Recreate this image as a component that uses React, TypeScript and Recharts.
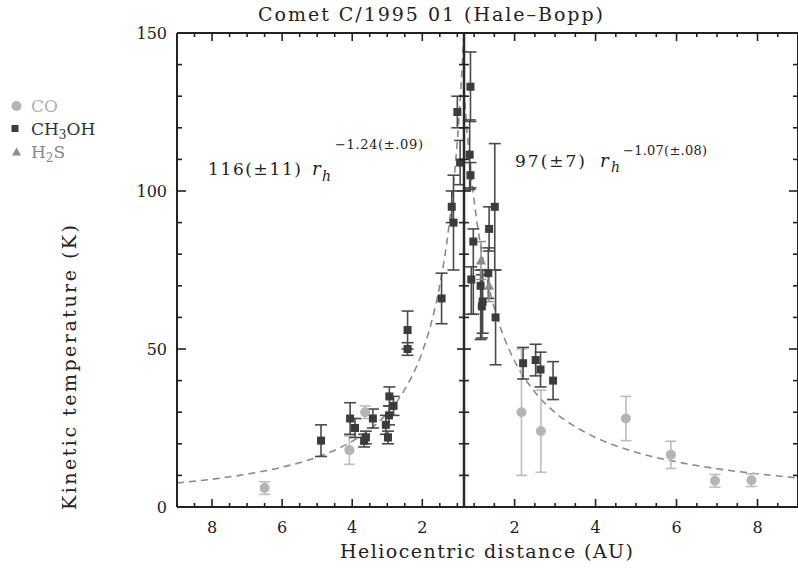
import React from 'react';
import { ComposedChart, Scatter, Line, XAxis, YAxis, ErrorBar } from 'recharts';

const FONT = '"DejaVu Serif", "Liberation Serif", serif';
const AXIS = '#222';
const CH3OH_COLOR = '#3c3c3c';
const CH3OH_BAR = '#4a4a4a';
const CO_COLOR = '#b5b5b5';
const CO_BAR = '#bdbdbd';
const H2S_COLOR = '#8c8c8c';
const FIT_COLOR = '#8a8a8a';

// ---------- pre-perihelion (left panel) ----------
const CH3OH_PRE_R = [4.89, 4.06, 3.92, 3.61, 3.66, 3.41, 2.94, 2.82, 2.95, 3.04, 2.98, 2.42, 2.42, 1.45, 1.16, 1.11, 1.0, 0.92];
const CH3OH_PRE_T = [21, 28, 25, 22, 21, 28, 35, 32, 29, 26, 22, 56, 50, 66, 95, 90, 125, 109];
const CH3OH_PRE_ERR = [[5, 5], [5, 5], [3, 3], [2, 2], [2, 2], [3, 3], [3, 3], [3, 3], [3, 3], [3, 3], [2, 2], [6, 6], [2, 2], [8, 8], [5, 5], [15, 15], [5, 5], [7, 7]];
const CO_PRE_R = [6.5, 4.08, 3.63];
const CO_PRE_T = [6, 18, 30];
const CO_PRE_ERR = [2, 4.5, 2];

// ---------- post-perihelion (right panel) ----------
const CH3OH_POST_R = [0.91, 0.89, 0.91, 1.51, 1.37, 0.98, 0.93, 1.16, 1.35, 1.21, 1.19, 1.53, 2.21, 2.52, 2.64, 2.95];
const CH3OH_POST_T = [133, 111.5, 105, 95, 88, 84, 72, 70, 74, 65, 63.5, 60, 45.5, 46.5, 43.5, 40];
const CH3OH_POST_ERR = [[11, 11], [11, 11], [4, 4], [20, 20], [7, 7], [23, 4], [11, 4], [17, 5], [8, 8], [10, 10], [10, 10], [15, 15], [5, 5], [5, 5], [5.5, 5.5], [6, 6]];
const H2S_POST_R = [1.17, 1.37];
const H2S_POST_T = [78, 70];
const H2S_POST_ERR = [6, 5];
const CO_POST_R = [2.17, 2.65, 4.75, 5.86, 6.95, 7.85];
const CO_POST_T = [30, 24, 28, 16.5, 8.3, 8.5];
const CO_POST_ERR = [20, 13, 7, 4.3, 2, 2];

// ---------- dashed fit curves ----------
const FIT_PRE_R = [9, 8, 7, 6, 5, 4, 3.5, 3, 2.5, 2, 1.75, 1.5, 1.3, 1.15, 1.0, 0.9, 0.82];
const FIT_PRE_T = [7.6, 8.8, 10.4, 12.6, 15.8, 20.8, 24.5, 29.7, 37.2, 49.1, 58.0, 70.2, 83.8, 97.5, 116, 132.2, 148.4];
const FIT_POST_R = [0.75, 0.85, 1.0, 1.15, 1.3, 1.5, 1.75, 2, 2.5, 3, 3.5, 4, 5, 6, 7, 8, 9];
const FIT_POST_T = [132, 115.4, 97, 83.5, 73.3, 62.9, 53.3, 46.2, 36.4, 29.9, 25.4, 22.0, 17.3, 14.3, 12.1, 10.5, 9.2];

// ---------- ticks ----------
const Y_TICKS = [0, 10, 20, 30, 40, 50, 60, 70, 80, 90, 100, 110, 120, 130, 140, 150];
const Y_LABELS = [0, 50, 100, 150];
const X_TICKS = [1, 1.5, 2, 2.5, 3, 3.5, 4, 4.5, 5, 5.5, 6, 6.5, 7, 7.5, 8, 8.5];
const X_LABELS = [2, 4, 6, 8];
const PRE_DOMAIN = [0.81, 9];
const POST_DOMAIN = [0.75, 9];

const pts = (rs: number[], ts: number[], es?: any[]) =>
  rs.map((r, i) => ({ r, T: ts[i], e: es ? es[i] : undefined }));

const fitPre = pts(FIT_PRE_R, FIT_PRE_T);
const fitPost = pts(FIT_POST_R, FIT_POST_T);
const ch3ohPre = pts(CH3OH_PRE_R, CH3OH_PRE_T, CH3OH_PRE_ERR);
const coPre = pts(CO_PRE_R, CO_PRE_T, CO_PRE_ERR);
const ch3ohPost = pts(CH3OH_POST_R, CH3OH_POST_T, CH3OH_POST_ERR);
const h2sPost = pts(H2S_POST_R, H2S_POST_T, H2S_POST_ERR);
const coPost = pts(CO_POST_R, CO_POST_T, CO_POST_ERR);

const isIn = (arr: number[], v: number) => arr.some((a) => Math.abs(a - v) < 1e-6);

const Square = (p: any) => <rect x={p.cx - 4} y={p.cy - 4} width={8} height={8} fill={CH3OH_COLOR} />;
const Dot = (p: any) => <circle cx={p.cx} cy={p.cy} r={5} fill={CO_COLOR} />;
const Tri = (p: any) => (
  <polygon points={`${p.cx},${p.cy - 5} ${p.cx - 5},${p.cy + 4} ${p.cx + 5},${p.cy + 4}`} fill={H2S_COLOR} />
);

const LeftTick = (p: any) => {
  const major = isIn(Y_LABELS, p.payload.value);
  return (
    <g>
      <line x1={p.x} x2={p.x + (major ? 9 : 5)} y1={p.y} y2={p.y} stroke={AXIS} strokeWidth={1.6} />
      {major && (
        <text x={p.x - 10} y={p.y + 6} textAnchor="end" fontSize={16} fontFamily={FONT} fill={AXIS}>
          {p.payload.value}
        </text>
      )}
    </g>
  );
};
const RightTick = (p: any) => {
  const major = isIn(Y_LABELS, p.payload.value);
  return <line x1={p.x - (major ? 9 : 5)} x2={p.x} y1={p.y} y2={p.y} stroke={AXIS} strokeWidth={1.6} />;
};
const CenterTick = (p: any) => {
  const major = isIn(Y_LABELS, p.payload.value);
  const h = major ? 7 : 5;
  return <line x1={p.x - h} x2={p.x + h} y1={p.y} y2={p.y} stroke={AXIS} strokeWidth={1.6} />;
};
const BottomTick = (p: any) => {
  const major = isIn(X_LABELS, p.payload.value);
  return (
    <g>
      <line x1={p.x} x2={p.x} y1={p.y} y2={p.y - (major ? 8 : 4)} stroke={AXIS} strokeWidth={1.6} />
      {major && (
        <text x={p.x} y={p.y + 26} textAnchor="middle" fontSize={16} fontFamily={FONT} fill={AXIS}>
          {p.payload.value}
        </text>
      )}
    </g>
  );
};
const TopTick = (p: any) => {
  const major = isIn(X_LABELS, p.payload.value);
  return <line x1={p.x} x2={p.x} y1={p.y} y2={p.y + (major ? 8 : 4)} stroke={AXIS} strokeWidth={1.6} />;
};

const axisLine = { stroke: AXIS, strokeWidth: 2 };

export default function App() {
  return (
    <div style={{ position: 'absolute', left: 0, top: 0, width: 798, height: 570, overflow: 'hidden', background: '#fff' }}>
      {/* Left panel: pre-perihelion */}
      <div style={{ position: 'absolute', left: 0, top: 0 }}>
        <ComposedChart width={464} height={570} margin={{ top: 32, right: 0, bottom: 33, left: 117 }}>
          <XAxis xAxisId="b" dataKey="r" type="number" domain={PRE_DOMAIN} reversed allowDataOverflow ticks={X_TICKS} interval={0}
            tickSize={0} tickMargin={0} height={30} axisLine={axisLine} tickLine={false} tick={BottomTick} />
          <XAxis xAxisId="t" orientation="top" dataKey="r" type="number" domain={PRE_DOMAIN} reversed allowDataOverflow ticks={X_TICKS} interval={0}
            tickSize={0} tickMargin={0} height={1} axisLine={axisLine} tickLine={false} tick={TopTick} />
          <YAxis yAxisId="l" type="number" domain={[0, 150]} allowDataOverflow ticks={Y_TICKS} interval={0}
            tickSize={0} tickMargin={0} width={60} axisLine={axisLine} tickLine={false} tick={LeftTick} />
          <Line xAxisId="b" yAxisId="l" data={fitPre} dataKey="T" type="monotone" dot={false} stroke={FIT_COLOR}
            strokeWidth={1.6} strokeDasharray="7 5" isAnimationActive={false} />
          <Scatter xAxisId="b" yAxisId="l" data={coPre} dataKey="T" shape={Dot} isAnimationActive={false}>
            <ErrorBar dataKey="e" direction="y" width={5.5} stroke={CO_BAR} strokeWidth={1.6} />
          </Scatter>
          <Scatter xAxisId="b" yAxisId="l" data={ch3ohPre} dataKey="T" shape={Square} isAnimationActive={false}>
            <ErrorBar dataKey="e" direction="y" width={6} stroke={CH3OH_BAR} strokeWidth={1.6} />
          </Scatter>
        </ComposedChart>
      </div>

      {/* Right panel: post-perihelion */}
      <div style={{ position: 'absolute', left: 440, top: 0 }}>
        <ComposedChart width={360} height={570} margin={{ top: 32, right: 0, bottom: 33, left: 0 }}>
          <XAxis xAxisId="b" dataKey="r" type="number" domain={POST_DOMAIN} allowDataOverflow ticks={X_TICKS} interval={0}
            tickSize={0} tickMargin={0} height={30} axisLine={axisLine} tickLine={false} tick={BottomTick} />
          <XAxis xAxisId="t" orientation="top" dataKey="r" type="number" domain={POST_DOMAIN} allowDataOverflow ticks={X_TICKS} interval={0}
            tickSize={0} tickMargin={0} height={1} axisLine={axisLine} tickLine={false} tick={TopTick} />
          <YAxis yAxisId="c" type="number" domain={[0, 150]} allowDataOverflow ticks={Y_TICKS} interval={0}
            tickSize={0} tickMargin={0} width={24} axisLine={{ stroke: '#2a2a2a', strokeWidth: 2.5 }} tickLine={false} tick={CenterTick} />
          <YAxis yAxisId="r" orientation="right" type="number" domain={[0, 150]} allowDataOverflow ticks={Y_TICKS} interval={0}
            tickSize={0} tickMargin={0} width={2} axisLine={axisLine} tickLine={false} tick={RightTick} />
          <Line xAxisId="b" yAxisId="c" data={fitPost} dataKey="T" type="monotone" dot={false} stroke={FIT_COLOR}
            strokeWidth={1.6} strokeDasharray="7 5" isAnimationActive={false} />
          <Scatter xAxisId="b" yAxisId="c" data={coPost} dataKey="T" shape={Dot} isAnimationActive={false}>
            <ErrorBar dataKey="e" direction="y" width={5.5} stroke={CO_BAR} strokeWidth={1.6} />
          </Scatter>
          <Scatter xAxisId="b" yAxisId="c" data={ch3ohPost} dataKey="T" shape={Square} isAnimationActive={false}>
            <ErrorBar dataKey="e" direction="y" width={6} stroke={CH3OH_BAR} strokeWidth={1.6} />
          </Scatter>
          <Scatter xAxisId="b" yAxisId="c" data={h2sPost} dataKey="T" shape={Tri} isAnimationActive={false}>
            <ErrorBar dataKey="e" direction="y" width={5} stroke={H2S_COLOR} strokeWidth={1.4} />
          </Scatter>
        </ComposedChart>
      </div>

      {/* Text overlay */}
      <svg width={798} height={570} style={{ position: 'absolute', left: 0, top: 0, pointerEvents: 'none' }} fontFamily={FONT}>
        <text x={258} y={20.5} fontSize={19} fill="#222" textLength={345} lengthAdjust="spacing">
          Comet C/1995 01 (Hale–Bopp)
        </text>
        <text x={340} y={558} fontSize={19} fill="#222" textLength={293} lengthAdjust="spacing">
          Heliocentric distance (AU)
        </text>
        <text transform="translate(76,510) rotate(-90)" fontSize={19} fill="#222" textLength={285} lengthAdjust="spacing">
          Kinetic temperature (K)
        </text>

        {/* legend */}
        <circle cx={16.5} cy={106} r={5} fill={CO_COLOR} />
        <text x={31} y={111.7} fontSize={17} fill="#b0b0b0">CO</text>
        <rect x={11.5} y={125} width={7} height={7} fill={CH3OH_COLOR} />
        <text x={31} y={135} fontSize={17} fill="#333">
          CH<tspan dy={4} fontSize={12}>3</tspan><tspan dy={-4}>OH</tspan>
        </text>
        <polygon points="16.5,147.5 12,155.5 21,155.5" fill={H2S_COLOR} />
        <text x={31} y={158.3} fontSize={17} fill="#888">
          H<tspan dy={4} fontSize={12}>2</tspan><tspan dy={-4}>S</tspan>
        </text>

        {/* fit annotations */}
        <text x={208} y={175} fontSize={17} fill="#222" textLength={93} lengthAdjust="spacing">116(±11)</text>
        <text x={312} y={175} fontSize={18} fill="#222" fontStyle="italic">r</text>
        <text x={322} y={181} fontSize={14} fill="#222" fontStyle="italic">h</text>
        <text x={335} y={149} fontSize={13} fill="#222" textLength={88} lengthAdjust="spacing">−1.24(±.09)</text>

        <text x={515} y={166.5} fontSize={17} fill="#222" textLength={70} lengthAdjust="spacing">97(±7)</text>
        <text x={600} y={166.5} fontSize={18} fill="#222" fontStyle="italic">r</text>
        <text x={611} y={172} fontSize={14} fill="#222" fontStyle="italic">h</text>
        <text x={623} y={155} fontSize={13} fill="#222" textLength={84} lengthAdjust="spacing">−1.07(±.08)</text>
      </svg>
    </div>
  );
}
